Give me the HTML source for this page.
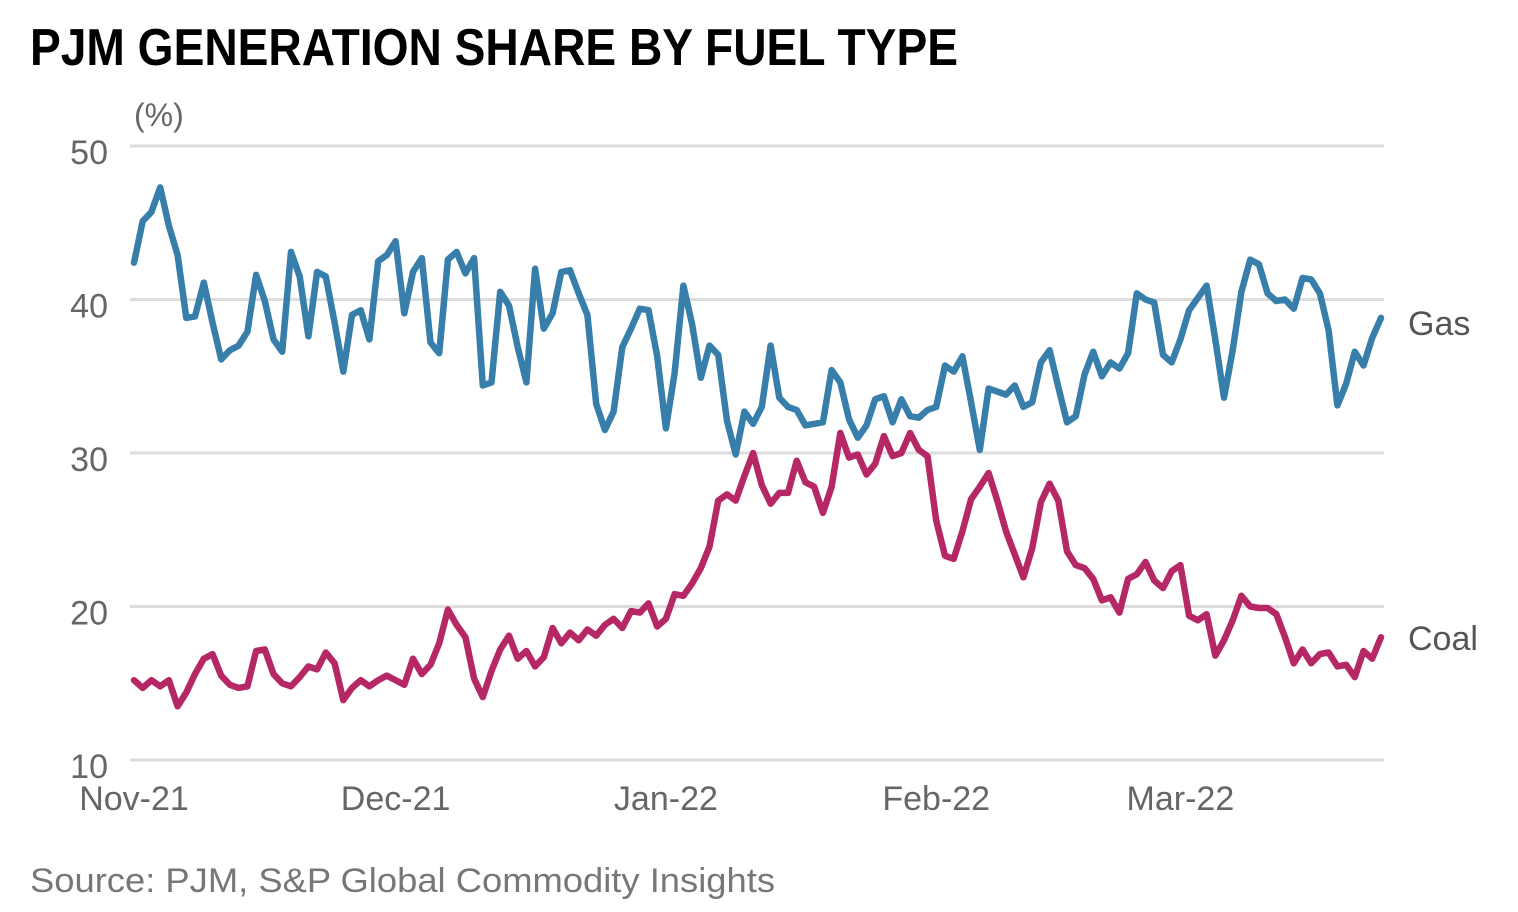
<!DOCTYPE html>
<html><head><meta charset="utf-8"><style>
html,body{margin:0;padding:0;background:#fff;}
svg{display:block;font-family:"Liberation Sans",sans-serif;}
</style></head><body>
<svg id="chart" width="1518" height="912" viewBox="0 0 1518 912">
<text x="30" y="65" font-size="52" font-weight="bold" fill="#000" textLength="928" lengthAdjust="spacingAndGlyphs">PJM GENERATION SHARE BY FUEL TYPE</text>
<text x="134" y="126" font-size="32" fill="#666">(%)</text>
<g id="grid"></g><g id="yticks"></g><g id="xticks"></g><g id="series"></g>
<text x="1408" y="335" font-size="34" fill="#555">Gas</text>
<text x="1408" y="650" font-size="34" fill="#555">Coal</text>
<text x="30" y="892" font-size="34" fill="#777" textLength="745" lengthAdjust="spacingAndGlyphs">Source: PJM, S&amp;P Global Commodity Insights</text>
</svg>
<script>
const yTicks=[10,20,30,40,50];
const xLabels=["Nov-21","Dec-21","Jan-22","Feb-22","Mar-22"];
const xLabelDay=[0,30,61,92,120];
const gas=[42.4,45.1,45.7,47.3,44.8,42.9,38.8,38.9,41.1,38.5,36.1,36.7,37.0,37.9,41.6,39.9,37.4,36.6,43.1,41.5,37.6,41.8,41.5,38.5,35.3,39.0,39.3,37.4,42.5,42.9,43.8,39.1,41.8,42.7,37.2,36.5,
42.6,43.1,41.7,42.7,34.4,34.6,40.5,39.6,36.9,34.6,42.0,38.1,39.1,41.8,41.9,40.4,39.0,33.2,31.5,32.7,36.9,38.1,39.4,39.3,36.3,31.6,35.2,40.9,38.4,34.9,37.0,36.4,32.1,29.9,32.7,31.9,
33.0,37.0,33.6,33.0,32.8,31.8,31.9,32.0,35.4,34.6,32.2,31.0,31.8,33.5,33.7,32.0,33.5,32.4,32.3,32.8,33.0,35.7,35.3,36.3,33.3,30.2,34.2,34.0,33.8,34.4,33.0,33.3,35.9,36.7,34.3,32.0,
32.4,35.1,36.6,35.0,35.9,35.5,36.5,40.4,40.0,39.8,36.4,35.9,37.4,39.3,40.1,40.9,37.4,33.6,36.7,40.5,42.6,42.3,40.4,39.9,40.0,39.4,41.4,41.3,40.4,38.0,33.1,34.5,36.6,35.7,37.5,38.8];
const coal=[15.2,14.7,15.2,14.8,15.2,13.5,14.4,15.6,16.6,16.9,15.5,14.9,14.7,14.8,17.1,17.2,15.6,15.0,14.8,15.4,16.1,15.9,17.0,16.3,13.9,14.7,15.2,14.8,15.2,15.5,15.2,14.9,16.6,15.6,16.2,17.6,
19.8,18.8,18.0,15.3,14.1,15.8,17.2,18.1,16.6,17.1,16.1,16.7,18.6,17.6,18.3,17.8,18.5,18.1,18.8,19.2,18.6,19.7,19.6,20.2,18.7,19.2,20.8,20.7,21.5,22.5,23.9,26.9,27.3,26.9,28.5,30.0,
27.9,26.7,27.4,27.4,29.5,28.1,27.8,26.1,27.8,31.3,29.7,29.9,28.6,29.3,31.1,29.8,30.0,31.3,30.2,29.8,25.6,23.3,23.1,24.9,27.0,27.8,28.7,26.9,24.9,23.4,21.9,23.8,26.8,28.0,26.9,23.6,
22.7,22.5,21.8,20.4,20.6,19.6,21.8,22.1,22.9,21.7,21.2,22.3,22.7,19.4,19.1,19.5,16.8,17.8,19.1,20.7,20.0,19.9,19.9,19.5,18.0,16.3,17.2,16.3,16.9,17.0,16.1,16.2,15.4,17.1,16.6,18.0];
const NS="http://www.w3.org/2000/svg";
const X=d=>134+d*8.72;
const Y=v=>760-(v-10)*15.35;
function mk(tag,attrs,parent){const e=document.createElementNS(NS,tag);for(const k in attrs)e.setAttribute(k,attrs[k]);document.getElementById(parent).appendChild(e);return e;}
yTicks.forEach(t=>{
  const l=mk('line',{x1:130,x2:1384,y1:Y(t),y2:Y(t),stroke:'#dcdcdc','stroke-width':3},'grid');
  
  
  const tx=mk('text',{x:108,y:Y(t)+18,'font-size':34,fill:'#666','text-anchor':'end'},'yticks');
  tx.textContent=t;
  
  
});
xLabels.forEach((s,i)=>{
  const tx=mk('text',{x:X(xLabelDay[i]),y:810,'font-size':34,fill:'#666','text-anchor':'middle'},'xticks');
  tx.textContent=s;
  
  
});
function line(arr,color,name){
  const p=mk('polyline',{points:arr.map((v,i)=>X(i).toFixed(1)+','+Y(v).toFixed(1)).join(' '),fill:'none',stroke:color,'stroke-width':6.5,'stroke-linejoin':'round','stroke-linecap':'round'},'series');
  
  
}
line(gas,'#377eab','gas-line');
line(coal,'#b52765','coal-line');
</script>
</body></html>
